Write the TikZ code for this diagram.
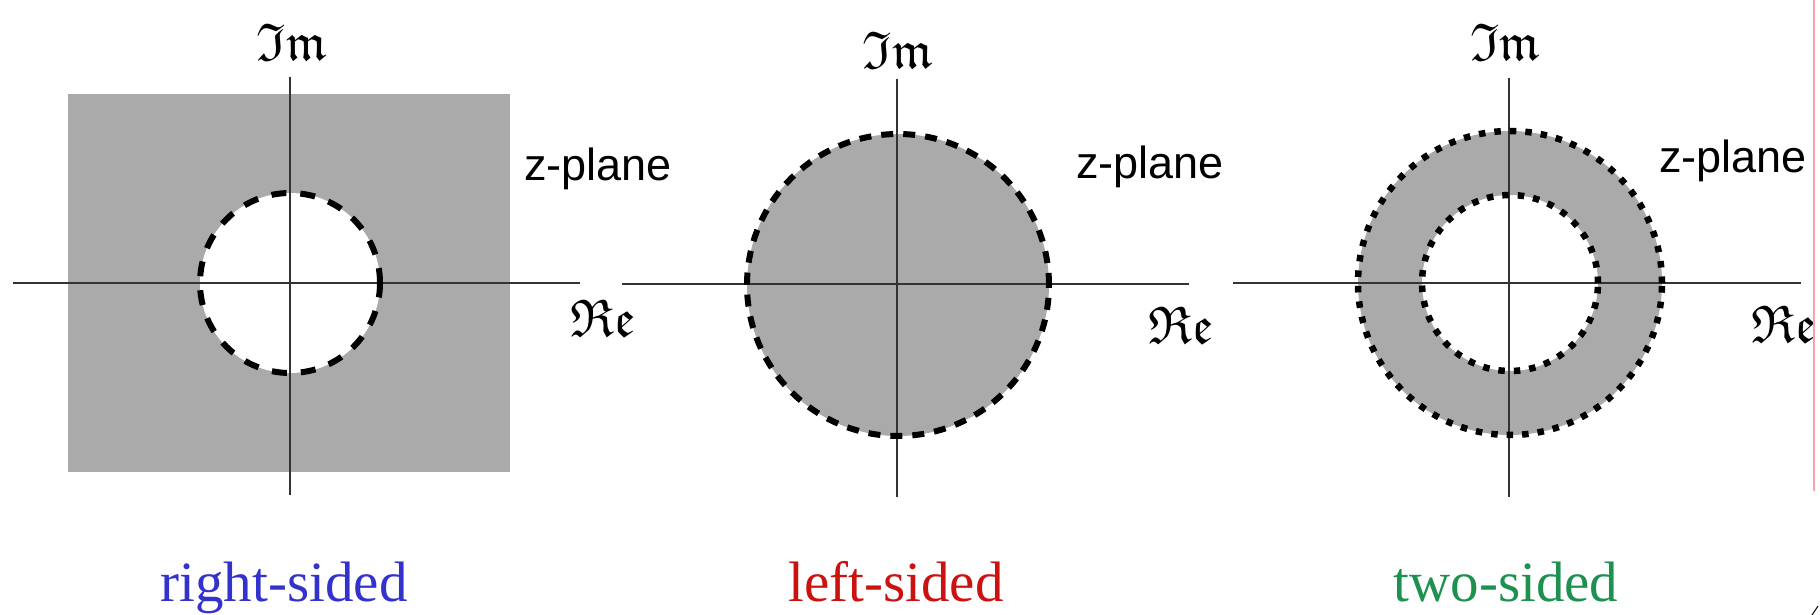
\documentclass[tikz,border=0pt]{standalone}
\usepackage{amssymb}
\usepackage{fontspec}
\newfontfamily\capfont{Liberation Serif}
\newfontfamily\planefont{Liberation Sans}
\definecolor{regiongray}{HTML}{AAAAAA}
\definecolor{axisgray}{HTML}{333333}
\definecolor{rsblue}{HTML}{3333CC}
\definecolor{lsred}{HTML}{CC1111}
\definecolor{tsgreen}{HTML}{1E9050}
\definecolor{edgepink}{HTML}{F4A6A6}
\tikzset{
  axisline/.style={draw=axisgray, line width=1.6pt},
  region/.style={fill=regiongray, draw=none},
  rocdashA/.style={draw=black, line width=6pt, dash pattern=on 15pt off 14pt},
  rocdashB/.style={draw=black, line width=6pt, dash pattern=on 12pt off 10pt},
  rocdot/.style={draw=black, line width=6.5pt, dash pattern=on 6.5pt off 9pt},
  caption/.style={inner sep=0pt, anchor=base, font=\capfont\fontsize{57}{60}\selectfont},
  planelabel/.style={inner sep=0pt, anchor=base west, font=\planefont\fontsize{45}{50}\selectfont},
  axlabel/.style={inner sep=0pt, anchor=center}
}
\begin{document}
\begin{tikzpicture}[x=1pt,y=-1pt]
\useasboundingbox (0,0) rectangle (1820,615);

% ---------- panel 1: right-sided ----------
\coordinate (c1) at (290,283);
\fill[region] (68,94) rectangle (510,472);
\fill[white] (c1) circle[radius=90pt];
\coordinate (v1t) at (290,77);
\coordinate (v1b) at (290,495);
\coordinate (h1l) at (13,283);
\coordinate (h1r) at (580,283);
\draw[axisline] (v1t) -- (v1b);
\draw[axisline] (h1l) -- (h1r);
\draw[rocdashA] (c1) circle[radius=90pt];
\node[axlabel] (im1) at (292,42) {\scalebox{5.3}{$\mathfrak{Im}$}};
\node[axlabel] (re1) at (603,318) {\scalebox{5.3}{$\mathfrak{Re}$}};
\node[planelabel] (zp1) at (524,180) {z-plane};
\node[caption, text=rsblue] (cap1) at (284,601) {right-sided};

% ---------- panel 2: left-sided ----------
\coordinate (c2) at (898,285);
\fill[region] (c2) circle[radius=151pt];
\coordinate (v2t) at (897,79);
\coordinate (v2b) at (897,497);
\coordinate (h2l) at (622,284);
\coordinate (h2r) at (1189,284);
\draw[axisline] (v2t) -- (v2b);
\draw[axisline] (h2l) -- (h2r);
\draw[rocdashB] (c2) circle[radius=151pt];
\node[axlabel] (im2) at (898,50) {\scalebox{5.3}{$\mathfrak{Im}$}};
\node[axlabel] (re2) at (1181,325) {\scalebox{5.3}{$\mathfrak{Re}$}};
\node[planelabel] (zp2) at (1076,178) {z-plane};
\node[caption, text=lsred] (cap2) at (896,601) {left-sided};

% ---------- panel 3: two-sided ----------
\coordinate (c3) at (1510,283);
\fill[region, even odd rule] (c3) circle[radius=152pt] (c3) circle[radius=88pt];
\coordinate (v3t) at (1509,78);
\coordinate (v3b) at (1509,497);
\coordinate (h3l) at (1233,283);
\coordinate (h3r) at (1801,283);
\draw[axisline] (v3t) -- (v3b);
\draw[axisline] (h3l) -- (h3r);
\draw[rocdot] (c3) circle[radius=152pt];
\draw[rocdot] (c3) circle[radius=88pt];
\node[axlabel] (im3) at (1505,42) {\scalebox{5.3}{$\mathfrak{Im}$}};
\node[axlabel] (re3) at (1784,324) {\scalebox{5.3}{$\mathfrak{Re}$}};
\node[planelabel] (zp3) at (1659,172) {z-plane};
\node[caption, text=tsgreen] (cap3) at (1506,601) {two-sided};

% ---------- right edge marks ----------
\coordinate (et) at (1814,0);
\coordinate (eb) at (1814,491);
\draw[edgepink, line width=1.2pt] (et) -- (eb);
\coordinate (ma) at (1812,615);
\coordinate (mb) at (1818,606);
\draw[black, line width=1pt] (ma) -- (mb);
\end{tikzpicture}
\end{document}
